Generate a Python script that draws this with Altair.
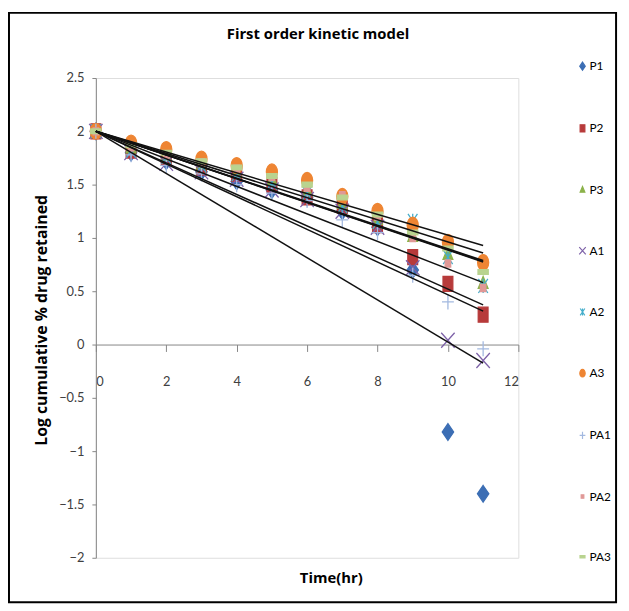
import altair as alt
import pandas as pd
import numpy as np

series = ["P1", "P2", "P3", "A1", "A2", "A3", "PA1", "PA2", "PA3"]
time_hr = list(range(12))

P1 = [2.00, 1.80, 1.72, 1.62, 1.53, 1.45, 1.38, 1.25, 1.10, 0.70, -0.82, -1.40]
P2 = [2.00, 1.82, 1.75, 1.66, 1.60, 1.50, 1.38, 1.30, 1.12, 0.82, 0.57, 0.28]
P3 = [2.00, 1.85, 1.78, 1.70, 1.62, 1.55, 1.45, 1.33, 1.18, 1.02, 0.85, 0.58]
A1 = [2.00, 1.80, 1.70, 1.62, 1.55, 1.45, 1.36, 1.25, 1.10, 0.72, 0.04, -0.15]
A2 = [2.00, 1.82, 1.76, 1.68, 1.60, 1.52, 1.42, 1.30, 1.15, 1.16, 0.82, 0.55]
A3 = [2.00, 1.89, 1.83, 1.74, 1.68, 1.62, 1.54, 1.39, 1.25, 1.12, 0.96, 0.77]
PA1 = [2.00, 1.78, 1.68, 1.60, 1.50, 1.42, 1.35, 1.17, 1.05, 0.65, 0.40, -0.04]
PA2 = [2.00, 1.85, 1.78, 1.71, 1.65, 1.57, 1.47, 1.40, 1.20, 1.00, 0.76, 0.53]
PA3 = [2.00, 1.87, 1.80, 1.72, 1.66, 1.58, 1.50, 1.38, 1.22, 1.05, 0.90, 0.68]
all_values = [P1, P2, P3, A1, A2, A3, PA1, PA2, PA3]

x_ticks = [0, 2, 4, 6, 8, 10, 12]
y_ticks = [-2, -1.5, -1, -0.5, 0, 0.5, 1, 1.5, 2, 2.5]
chart_title = "First order kinetic model"

colors = ["#3C6EB4", "#B73A3A", "#8CB24B", "#7D61A8", "#45AECB",
          "#EE8533", "#A3B9E0", "#E09896", "#B9D38F"]
shapes = [
    "M0,-1.05L0.72,0L0,1.05L-0.72,0Z",
    "M-0.62,-0.95L0.62,-0.95L0.62,0.95L-0.62,0.95Z",
    "M0,-0.8L0.62,0.7L-0.62,0.7Z",
    "M-0.85,-0.95L0.85,0.95M-0.85,0.95L0.85,-0.95",
    "M-0.6,-0.9L0.6,0.9M-0.6,0.9L0.6,-0.9M0,-0.9L0,0.9",
    "M0,-1A0.7,1 0 1,1 0,1A0.7,1 0 1,1 0,-1Z",
    "M-0.75,0L0.75,0M0,-0.95L0,0.95",
    "M-0.35,-0.45L0.35,-0.45L0.35,0.45L-0.35,0.45Z",
    "M-0.65,-0.3L0.65,-0.3L0.65,0.3L-0.65,0.3Z",
]

rows = []
for s, vals in zip(series, all_values):
    for t, v in zip(time_hr, vals):
        rows.append({"series": s, "t": t, "v": v})
df = pd.DataFrame(rows)

# first-order trendlines with intercept fixed at 2 (log 100)
trend_rows = []
t_arr = np.array(time_hr, dtype=float)
for s, vals in zip(series, all_values):
    y = np.array(vals)
    k = np.sum(t_arr * (y - 2.0)) / np.sum(t_arr * t_arr)
    for tt in (0.0, 11.0):
        trend_rows.append({"series": s, "t": tt, "v": 2.0 + k * tt})
tdf = pd.DataFrame(trend_rows)

W, H = 428, 486
FONT = "Lato"
xscale = alt.Scale(domain=[0, 12], nice=False, zero=False)
yscale = alt.Scale(domain=[-2, 2.5], nice=False, zero=False)

legend = alt.Legend(title=None, orient="none", legendX=487, legendY=-18,
                    rowPadding=49, symbolSize=60, symbolStrokeWidth=1.2,
                    labelFont=FONT, labelFontSize=12, labelColor="#000000",
                    labelOffset=1, padding=0)

x_axis = alt.Axis(values=x_ticks, offset=-216, title="Time(hr)",
                  titleFont="Open Sans", titleFontSize=15, titleFontWeight="bold",
                  titleColor="#000000", titleX=238, titleY=229,
                  titleAlign="center", titleBaseline="top",
                  labelFont=FONT, labelFontSize=13, labelColor="#404040",
                  tickSize=7, labelPadding=24, domainColor="#868686",
                  tickColor="#868686", grid=False)
y_axis = alt.Axis(values=y_ticks, format="~g",
                  title="Log  cumulative % drug retained",
                  titleFont="Open Sans", titleFontSize=16, titleFontWeight="bold",
                  titleColor="#000000", titleX=-55, titleY=245,
                  titleAngle=270, titleAlign="center", titleBaseline="middle",
                  labelFont=FONT, labelFontSize=13, labelColor="#404040",
                  tickSize=4, labelPadding=8, domainColor="#868686",
                  tickColor="#868686", grid=False)

points = alt.Chart(df).mark_point(size=256, opacity=1, strokeWidth=1.3).encode(
    x=alt.X("t:Q", scale=xscale, axis=x_axis),
    y=alt.Y("v:Q", scale=yscale, axis=y_axis),
    fill=alt.Fill("series:N", scale=alt.Scale(domain=series, range=colors), legend=legend),
    stroke=alt.Stroke("series:N", scale=alt.Scale(domain=series, range=colors), legend=legend),
    shape=alt.Shape("series:N", scale=alt.Scale(domain=series, range=shapes), legend=legend),
)

lines = alt.Chart(tdf).mark_line(color="#111111", strokeWidth=1.5).encode(
    x=alt.X("t:Q", scale=xscale),
    y=alt.Y("v:Q", scale=yscale),
    detail="series:N",
)

title_df = pd.DataFrame({"label": [chart_title]})
title_mark = alt.Chart(title_df).mark_text(
    font="Open Sans", fontSize=15, fontWeight="bold", color="#000000",
    align="center", baseline="middle"
).encode(x=alt.value(225), y=alt.value(-45), text="label:N")

frame = alt.Chart(pd.DataFrame({"a": [0]})).mark_rect(
    fill=None, stroke="#000000", strokeWidth=2
).encode(
    x=alt.value(-88), x2=alt.value(527), y=alt.value(-66), y2=alt.value(531)
)

chart = alt.layer(points, lines, title_mark, frame).properties(
    width=W, height=H,
    padding={"left": 89, "top": 67, "right": 104, "bottom": 50},
    autosize="none",
).configure_view(stroke=None).configure(background="white")

chart.save("out.html", embed_options={"renderer": "svg", "actions": False})
